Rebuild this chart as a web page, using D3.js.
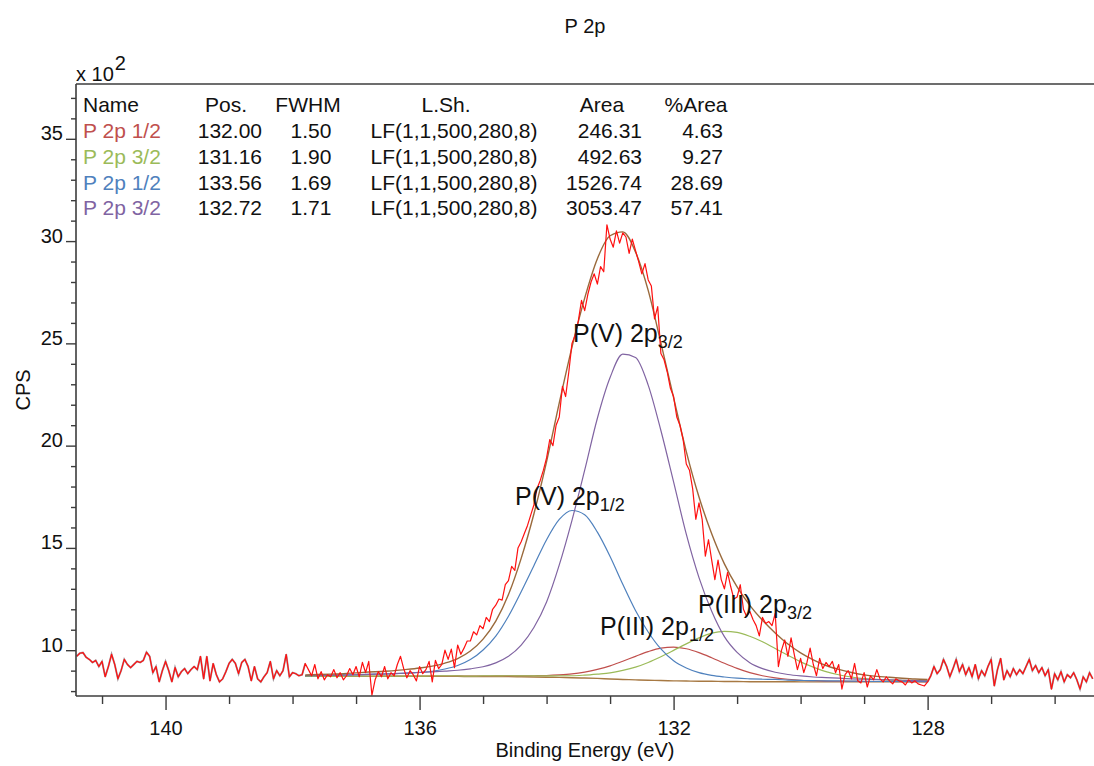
<!DOCTYPE html>
<html><head><meta charset="utf-8">
<script src="https://cdn.jsdelivr.net/npm/d3@7"></script>
<style>html,body{margin:0;padding:0;background:#fff;} svg{display:block;}</style>
</head><body><svg id="chart" width="1094" height="766"></svg>
<script>
// ---------------- data ----------------
const title = "P 2p";
const xLabel = "Binding Energy (eV)";
const yLabel = "CPS";
const xTicks = [140, 136, 132, 128];
const yTicks = [10, 15, 20, 25, 30, 35];

// measured spectrum (CPS / 100), binding energy from 141.40 eV down in 0.05 eV steps
const beStart = 141.40, beStep = 0.05;
const cps = [
9.70,9.85,9.88,9.65,9.55,9.40,9.50,9.20,9.45,8.70,
9.20,9.80,9.30,8.60,9.00,9.55,9.30,9.15,9.30,9.45,
9.40,9.50,9.90,9.70,8.90,9.20,8.45,9.00,9.45,9.00,
8.45,9.15,8.70,8.95,9.10,8.85,9.05,9.20,9.05,9.70,
8.60,9.70,8.50,9.35,8.80,8.45,8.60,8.95,9.35,9.55,
9.35,8.85,9.40,9.55,9.20,8.50,9.20,8.60,8.45,8.70,
8.90,9.45,8.60,9.00,8.75,9.00,9.80,8.70,8.90,8.85,
8.75,8.80,
9.35,9.05,8.75,9.30,8.60,8.95,8.55,8.80,8.70,9.05,
8.65,8.90,8.55,8.75,9.10,8.80,9.20,8.70,9.40,8.90,
9.45,7.80,8.55,8.95,8.70,9.20,8.60,8.90,8.75,9.30,
9.70,9.10,8.65,9.00,8.80,8.50,9.20,8.85,9.05,9.45,
8.45,9.50,9.10,9.30,10.00,9.55,10.05,9.15,10.25,9.80,
10.10,10.45,10.45,10.90,10.75,11.20,11.05,11.60,11.40,12.00,
12.20,12.50,12.45,13.20,13.40,14.10,13.90,15.00,15.30,15.70,
16.10,16.60,17.10,17.90,18.30,18.80,19.40,20.30,20.00,21.00,
21.40,22.90,22.40,23.60,25.00,25.40,26.10,27.10,26.60,27.40,
28.00,28.40,27.90,28.75,28.50,30.80,30.10,29.70,30.50,29.90,
30.40,30.20,29.40,30.10,29.55,29.00,28.40,28.90,28.10,27.80,
26.20,26.80,24.50,24.20,23.60,22.80,22.40,21.40,21.00,20.30,
19.10,18.80,17.90,16.40,17.20,16.40,14.60,15.40,14.40,13.45,
14.40,13.45,13.00,13.80,13.10,12.50,12.60,13.20,12.00,11.65,
11.90,11.50,11.20,10.70,11.60,11.30,11.40,11.20,11.80,9.20,
10.00,10.50,9.70,10.60,9.80,9.05,9.60,8.90,9.40,10.10,
9.30,8.75,9.60,9.10,9.40,9.20,9.45,8.90,9.30,8.10,
8.80,9.00,8.60,9.35,8.50,8.40,8.90,8.20,8.75,8.55,
9.05,8.60,8.45,8.70,8.50,8.35,8.60,8.50,8.45,8.30,
8.55,8.40,8.50,8.35,8.30,8.25,8.45,
8.75,9.20,8.85,9.05,9.55,9.20,8.70,9.10,9.55,8.95,
9.30,8.80,9.15,8.70,9.30,8.60,9.00,8.75,9.20,9.55,
8.25,9.05,9.60,8.55,9.00,8.70,9.10,8.80,9.05,8.85,
9.20,9.55,9.00,9.25,8.90,9.15,8.75,9.05,8.10,8.85,
8.55,8.95,8.45,8.80,8.65,8.90,8.55,8.10,8.70,8.45,
8.90,8.60];
const fitFirstIndex = 72, fitLastIndex = 268;

// fit region: binding energy from 137.8 eV down in 0.2 eV steps
const fitStart = 137.8, fitStep = 0.2;
const background = [
8.72,8.72,8.72,8.72,8.72,8.72,8.72,8.72,8.72,8.72,
8.72,8.72,8.72,8.71,8.71,8.71,8.71,8.70,8.69,8.68,
8.67,8.65,8.64,8.62,8.59,8.57,8.55,8.53,8.52,8.50,
8.49,8.48,8.48,8.47,8.47,8.46,8.46,8.46,8.46,8.45,
8.45,8.45,8.45,8.45,8.45,8.45,8.45,8.45,8.45,8.45];
// component heights above the background
const pIII_2p12 = [
.00,.00,.00,.00,.00,.00,.01,.01,.01,.01,
.01,.01,.02,.02,.02,.03,.03,.04,.06,.08,
.12,.19,.29,.44,.64,.89,1.15,1.40,1.58,1.65,
1.58,1.40,1.15,.89,.64,.44,.29,.19,.12,.08,
.06,.04,.03,.03,.02,.02,.02,.01,.01,.01];
const pIII_2p32 = [
.00,.00,.00,.00,.01,.01,.01,.01,.01,.01,
.02,.02,.02,.02,.03,.03,.04,.04,.05,.06,
.08,.10,.14,.21,.30,.44,.62,.87,1.16,1.49,
1.82,2.12,2.35,2.45,2.40,2.22,1.95,1.62,1.29,.98,
.72,.50,.35,.24,.16,.12,.09,.07,.05,.05];
const pV_2p12 = [
.04,.05,.06,.07,.08,.10,.11,.13,.16,.20,
.25,.36,.53,.83,1.30,1.98,2.95,4.16,5.44,6.72,
7.72,8.18,7.98,7.15,5.99,4.65,3.39,2.36,1.54,.98,
.64,.42,.29,.22,.16,.14,.12,.11,.08,.07,
.06,.05,.05,.04,.03,.02,.02,.02,.02,.01];
const pV_2p32 = [
.03,.04,.05,.06,.08,.10,.11,.13,.16,.19,
.22,.26,.30,.38,.48,.67,.99,1.55,2.42,3.68,
5.50,7.70,10.16,12.72,14.74,15.90,15.76,14.43,12.22,9.73,
7.18,5.07,3.42,2.19,1.42,.93,.64,.46,.35,.29,
.24,.21,.18,.15,.13,.11,.10,.08,.06,.05];

// fit table
const compNames = ["P 2p 1/2", "P 2p 3/2", "P 2p 1/2", "P 2p 3/2"];
const compPos   = ["132.00", "131.16", "133.56", "132.72"];
const compFwhm  = ["1.50", "1.90", "1.69", "1.71"];
const compLsh   = ["LF(1,1,500,280,8)", "LF(1,1,500,280,8)", "LF(1,1,500,280,8)", "LF(1,1,500,280,8)"];
const compArea  = ["246.31", "492.63", "1526.74", "3053.47"];
const compPct   = ["4.63", "9.27", "28.69", "57.41"];
const tableHeaders = ["Name", "Pos.", "FWHM", "L.Sh.", "Area", "%Area"];

// peak annotations
const peakLabelMain = ["P(V) 2p", "P(V) 2p", "P(III) 2p", "P(III) 2p"];
const peakLabelSub  = ["3/2", "1/2", "1/2", "3/2"];

// ---------------- drawing ----------------
const FONT = '"Liberation Sans", Arial, Helvetica, sans-serif';
const compColors = ["#c0504d", "#9bbb59", "#4f81bd", "#8064a2"];
const svg = d3.select("#chart").style("font-family", FONT);
const plot = {left: 76, right: 1094, top: 84, bottom: 696};
const x = d3.scaleLinear().domain([141.41, 125.38]).range([plot.left, plot.right]);
const y = d3.scaleLinear().domain([7.76, 37.68]).range([plot.bottom, plot.top]);

svg.append("defs").append("clipPath").attr("id", "clip").append("rect")
  .attr("x", plot.left).attr("y", plot.top)
  .attr("width", plot.right - plot.left).attr("height", plot.bottom - plot.top);

const beData = cps.map((_, i) => beStart - i * beStep);
const beFit = background.map((_, i) => fitStart - i * fitStep);
const comps = [pIII_2p12, pIII_2p32, pV_2p12, pV_2p32];

const smooth = d3.line().x(d => x(d[0])).y(d => y(d[1])).curve(d3.curveMonotoneX);
const straight = d3.line().x(d => x(d[0])).y(d => y(d[1]));

const gp = svg.append("g").attr("clip-path", "url(#clip)");

// dark underlay of the raw data outside the fit region
const outside = [cps.slice(0, fitFirstIndex + 1).map((v, i) => [beData[i], v]),
                 cps.slice(fitLastIndex).map((v, i) => [beData[i + fitLastIndex], v])];
outside.forEach(seg => gp.append("path").datum(seg).attr("d", straight)
  .attr("fill", "none").attr("stroke", "#5a4650").attr("stroke-width", 1.9).attr("stroke-opacity", 0.55));

// background
gp.append("path").datum(beFit.map((e, i) => [e, background[i]])).attr("d", smooth)
  .attr("fill", "none").attr("stroke", "#a77943").attr("stroke-width", 1.4);

// components
comps.forEach((c, k) => {
  gp.append("path").datum(beFit.map((e, i) => [e, background[i] + c[i]])).attr("d", smooth)
    .attr("fill", "none").attr("stroke", compColors[k]).attr("stroke-width", 1.2);
});

// envelope
const env = beFit.map((e, i) => [e, background[i] + d3.sum(comps, c => c[i])]);
gp.append("path").datum(env).attr("d", smooth)
  .attr("fill", "none").attr("stroke", "#9a6a3c").attr("stroke-width", 1.4);

// raw data
gp.append("path").datum(cps.map((v, i) => [beData[i], v])).attr("d", straight)
  .attr("fill", "none").attr("stroke", "#ff1010").attr("stroke-width", 1.2).attr("stroke-linejoin", "round");

// ---------------- axes ----------------
const axisColor = "#3c3c3c";
const gAx = svg.append("g").attr("stroke", axisColor).attr("fill", "none");
gAx.append("line").attr("x1", plot.left).attr("x2", plot.left).attr("y1", plot.top).attr("y2", plot.bottom).attr("stroke-width", 1.6);
gAx.append("line").attr("x1", plot.left).attr("x2", plot.right).attr("y1", plot.bottom).attr("y2", plot.bottom).attr("stroke-width", 1.6);
gAx.append("line").attr("x1", plot.left).attr("x2", plot.right).attr("y1", plot.top).attr("y2", plot.top).attr("stroke-width", 1.6);

function styleAxis(g) {
  g.select(".domain").remove();
  g.selectAll(".tick line").attr("stroke", axisColor).attr("stroke-width", 1.4);
  g.selectAll(".tick text").attr("fill", "#111").style("font-family", FONT);
}
// y minor + major
svg.append("g").attr("transform", `translate(${plot.left},0)`)
  .call(d3.axisLeft(y).tickValues(d3.range(8, 38, 1).filter(v => !yTicks.includes(v))).tickSize(5).tickFormat(""))
  .call(styleAxis);
const yAx = svg.append("g").attr("transform", `translate(${plot.left},0)`)
  .call(d3.axisLeft(y).tickValues(yTicks).tickSize(10).tickPadding(3).tickFormat(d3.format("d")))
  .call(styleAxis);
yAx.selectAll(".tick text").attr("dy", "0.05em").style("font-size", "20px");

// x minor + major
svg.append("g").attr("transform", `translate(0,${plot.bottom})`)
  .call(d3.axisBottom(x).tickValues(d3.range(126, 142, 1).filter(v => !xTicks.includes(v))).tickSize(8).tickFormat(""))
  .call(styleAxis);
const xAx = svg.append("g").attr("transform", `translate(0,${plot.bottom})`)
  .call(d3.axisBottom(x).tickValues(xTicks).tickSize(14).tickPadding(11).tickFormat(d3.format("d")))
  .call(styleAxis);
xAx.selectAll(".tick text").style("font-size", "20px");

// ---------------- texts ----------------
svg.append("text").attr("x", 585).attr("y", 33).attr("text-anchor", "middle")
  .style("font-size", "20px").attr("fill", "#111").text(title);
svg.append("text").attr("x", 585).attr("y", 757).attr("text-anchor", "middle")
  .style("font-size", "20px").attr("fill", "#111").text(xLabel);
svg.append("text").attr("transform", "translate(30,390) rotate(-90)").attr("text-anchor", "middle")
  .style("font-size", "20px").attr("fill", "#111").text(yLabel);
const sc = svg.append("text").attr("x", 76).attr("y", 81).style("font-size", "20px").attr("fill", "#111");
sc.append("tspan").text("x 10");
sc.append("tspan").attr("dy", -11).attr("dx", 1).text("2");

// fit table
const tbl = svg.append("g").style("font-size", "21px").attr("fill", "#111");
const rowY = [112, 137.5, 163.5, 189.5, 214.5];
const hdr = [[83, "start"], [226, "middle"], [308, "middle"], [446, "middle"], [602, "middle"], [696, "middle"]];
tableHeaders.forEach((h, j) => tbl.append("text").attr("x", hdr[j][0]).attr("y", rowY[0]).attr("text-anchor", hdr[j][1]).text(h));
compNames.forEach((n, i) => {
  const yy = rowY[i + 1];
  tbl.append("text").attr("x", 83).attr("y", yy).attr("fill", compColors[i]).text(n);
  tbl.append("text").attr("x", 262).attr("y", yy).attr("text-anchor", "end").text(compPos[i]);
  tbl.append("text").attr("x", 311).attr("y", yy).attr("text-anchor", "middle").text(compFwhm[i]);
  tbl.append("text").attr("x", 454).attr("y", yy).attr("text-anchor", "middle").text(compLsh[i]);
  tbl.append("text").attr("x", 642).attr("y", yy).attr("text-anchor", "end").text(compArea[i]);
  tbl.append("text").attr("x", 723).attr("y", yy).attr("text-anchor", "end").text(compPct[i]);
});

// peak labels
const labelAt = [[573, 342], [515, 505], [600, 635], [698, 613]];
peakLabelMain.forEach((m, i) => {
  const t = svg.append("text").attr("x", labelAt[i][0]).attr("y", labelAt[i][1])
    .style("font-size", "25px").attr("fill", "#111");
  t.append("tspan").text(m);
  t.append("tspan").attr("dy", 6).style("font-size", "18px").text(peakLabelSub[i]);
});
</script>
</body></html>
